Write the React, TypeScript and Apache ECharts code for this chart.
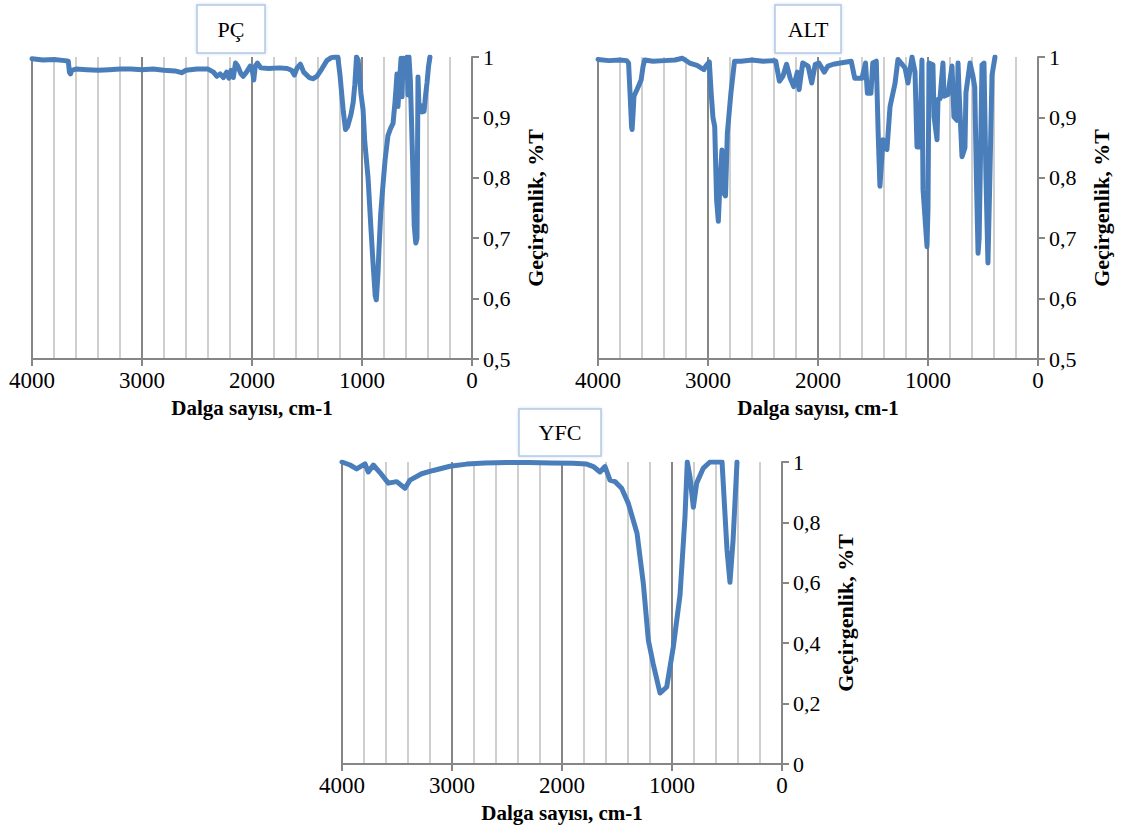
import React, { useEffect, useRef } from "react";
import * as echarts from "echarts";

// ---- Data ----
const pcWavenumber = [4000,3900,3800,3700,3670,3660,3650,3640,3600,3500,3400,3300,3200,3100,3000,2900,2800,2700,2640,2600,2500,2400,2350,2320,2290,2260,2230,2210,2190,2170,2150,2130,2100,2080,2050,2016,1995,1984,1970,1950,1920,1850,1750,1680,1640,1615,1590,1560,1530,1480,1447,1410,1366,1320,1280,1240,1220,1200,1170,1150,1130,1100,1080,1065,1050,1035,1010,990,975,945,920,900,880,870,855,846,830,813,790,764,740,718,700,690,682,673,664,655,645,636,627,600,591,582,573,560,540,525,511,500,491,482,470,455,436,420,409,395,382];
const pcTransmittance = [0.997,0.995,0.996,0.994,0.993,0.975,0.972,0.978,0.980,0.979,0.978,0.979,0.980,0.980,0.979,0.980,0.978,0.977,0.974,0.978,0.980,0.980,0.975,0.968,0.972,0.966,0.975,0.965,0.978,0.966,0.990,0.985,0.972,0.968,0.975,0.985,0.975,0.962,0.985,0.990,0.982,0.981,0.982,0.981,0.978,0.970,0.982,0.988,0.975,0.966,0.964,0.968,0.980,0.994,0.999,1.0,1.0,0.970,0.910,0.880,0.885,0.905,0.925,0.955,1.0,0.995,0.940,0.912,0.860,0.800,0.720,0.660,0.605,0.598,0.640,0.680,0.740,0.780,0.830,0.870,0.882,0.890,0.925,0.950,0.972,0.918,0.945,0.970,0.998,0.934,0.998,0.995,1.0,0.937,1.0,0.960,0.830,0.720,0.692,0.700,0.967,0.917,0.920,0.909,0.910,0.940,0.957,0.985,1.0];

const altWavenumber = [4000,3900,3800,3740,3722,3706,3695,3690,3680,3673,3641,3608,3590,3576,3500,3400,3300,3233,3167,3100,3037,3020,2988,2971,2955,2939,2922,2906,2890,2873,2857,2841,2824,2792,2759,2700,2600,2500,2400,2384,2351,2319,2286,2253,2221,2188,2172,2139,2090,2057,2025,1992,1943,1910,1861,1796,1698,1666,1600,1568,1551,1519,1502,1470,1453,1437,1421,1409,1390,1373,1345,1300,1273,1209,1182,1145,1118,1100,1076,1055,1045,1009,1000,991,955,945,918,909,891,864,855,818,782,764,736,727,718,691,664,655,618,591,575,560,545,535,509,491,473,455,440,418,391];
const altTransmittance = [0.996,0.994,0.995,0.994,0.990,0.930,0.885,0.880,0.910,0.935,0.948,0.962,0.985,0.995,0.993,0.994,0.995,0.998,0.990,0.986,0.979,0.985,0.992,0.940,0.900,0.885,0.764,0.728,0.797,0.846,0.775,0.770,0.874,0.940,0.993,0.993,0.995,0.993,0.994,0.993,0.960,0.968,0.988,0.965,0.951,0.975,0.946,0.990,0.985,0.957,0.988,0.990,0.975,0.985,0.988,0.990,0.993,0.965,0.965,0.990,0.940,0.940,0.990,0.993,0.874,0.786,0.830,0.863,0.850,0.847,0.918,0.956,0.996,0.982,0.957,1.0,0.975,0.851,0.851,0.995,0.780,0.686,0.750,0.990,0.987,0.901,0.863,0.930,0.931,0.990,0.935,0.938,0.985,0.901,0.895,0.990,0.945,0.835,0.850,0.941,0.990,0.968,0.950,0.800,0.675,0.700,0.987,0.990,0.800,0.659,0.780,0.970,1.0];

const yfcWavenumber = [4000,3927,3867,3791,3761,3715,3655,3579,3503,3427,3382,3276,3170,3018,2867,2700,2500,2300,2100,1900,1776,1715,1655,1609,1564,1518,1458,1397,1318,1261,1215,1170,1109,1048,988,927,882,861,836,806,776,715,655,545,500,473,445,409];
const yfcTransmittance = [1.0,0.990,0.977,0.994,0.967,0.990,0.965,0.930,0.935,0.913,0.940,0.961,0.972,0.986,0.993,0.997,0.998,0.998,0.997,0.996,0.993,0.985,0.967,0.985,0.940,0.935,0.913,0.863,0.764,0.599,0.410,0.330,0.235,0.255,0.388,0.560,0.818,1.0,0.950,0.850,0.930,0.980,1.0,1.0,0.709,0.602,0.740,1.0];

const panelTitles = ["PÇ", "ALT", "YFC"];
const xAxisTitle = "Dalga sayısı, cm-1";
const yAxisTitle = "Geçirgenlik, %T";
const yRanges = [
  { min: 0.5, max: 1, interval: 0.1 },
  { min: 0.5, max: 1, interval: 0.1 },
  { min: 0, max: 1, interval: 0.2 },
];

const FONT = "'Liberation Serif', 'Times New Roman', serif";
const LINE_COLOR = "#4a7ebb";
const AXIS_COLOR = "#868686";

const grids = [
  { left: 32, top: 57, width: 440, height: 302 },
  { left: 598, top: 57, width: 440, height: 302 },
  { left: 342, top: 462, width: 440, height: 302 },
];
const titleBoxes = [
  { cx: 231, top: 5, w: 68, h: 48 },
  { cx: 808, top: 5, w: 66, h: 48 },
  { cx: 560, top: 409, w: 82, h: 47 },
];

function fmtY(v: number) {
  if (Number.isInteger(v)) return String(v);
  return v.toFixed(1).replace(".", ",");
}
function fmtX(v: number) {
  return String(Math.round(v));
}

function zip(xs: number[], ys: number[]) {
  return xs.map((x, i) => [x, ys[i]]);
}

export default function App() {
  const ref = useRef<HTMLDivElement>(null);
  useEffect(() => {
    document.body.style.margin = "0";
    const chart = echarts.init(ref.current!, null, { renderer: "svg" });
    const datasets = [
      zip(pcWavenumber, pcTransmittance),
      zip(altWavenumber, altTransmittance),
      zip(yfcWavenumber, yfcTransmittance),
    ];
    const option: any = {
      animation: false,
      backgroundColor: "#ffffff",
      grid: grids.map((g) => ({ ...g, containLabel: false })),
      xAxis: grids.map((_, i) => ({
        type: "value",
        gridIndex: i,
        min: 0,
        max: 4000,
        interval: 1000,
        inverse: true,
        name: xAxisTitle,
        nameLocation: "middle",
        nameGap: 38,
        nameTextStyle: { fontFamily: FONT, fontWeight: "bold", fontSize: 21, color: "#000" },
        axisLine: { show: true, lineStyle: { color: AXIS_COLOR, width: 2 } },
        axisTick: { show: true, length: 7, lineStyle: { color: AXIS_COLOR, width: 2 } },
        axisLabel: { fontFamily: FONT, fontSize: 23, color: "#000", margin: 10, formatter: fmtX },
        splitLine: { show: true, lineStyle: { color: AXIS_COLOR, width: 2 } },
        minorTick: { show: false, splitNumber: 5 },
        minorSplitLine: { show: true, lineStyle: { color: "#cfcfcf", width: 2 } },
      })),
      yAxis: grids.map((_, i) => ({
        type: "value",
        gridIndex: i,
        position: "right",
        min: yRanges[i].min,
        max: yRanges[i].max,
        interval: yRanges[i].interval,
        name: yAxisTitle,
        nameLocation: "middle",
        nameGap: 52,
        nameRotate: 90,
        nameTextStyle: { fontFamily: FONT, fontWeight: "bold", fontSize: 22, color: "#000" },
        axisLine: { show: true, lineStyle: { color: AXIS_COLOR, width: 2 } },
        axisTick: { show: true, length: 7, lineStyle: { color: AXIS_COLOR, width: 2 } },
        axisLabel: { fontFamily: FONT, fontSize: 22, color: "#000", margin: 11, formatter: fmtY },
        splitLine: { show: false },
      })),
      series: datasets.map((d, i) => ({
        type: "line",
        xAxisIndex: i,
        yAxisIndex: i,
        data: d,
        showSymbol: false,
        symbol: "none",
        lineStyle: { color: LINE_COLOR, width: 5, join: "round", cap: "round" },
        clip: true,
      })),
      graphic: titleBoxes.map((b, i) => ({
        type: "group",
        children: [
          {
            type: "rect",
            shape: { x: b.cx - b.w / 2, y: b.top, width: b.w, height: b.h },
            style: {
              fill: "#ffffff",
              stroke: "#b4c9e6",
              lineWidth: 1.5,
              shadowColor: "rgba(120,150,200,0.35)",
              shadowBlur: 3,
            },
          },
          {
            type: "text",
            x: b.cx,
            y: b.top + b.h / 2,
            style: {
              text: panelTitles[i],
              fontFamily: FONT,
              fontSize: 22,
              fill: "#000",
              textAlign: "center",
              textVerticalAlign: "middle",
            },
          },
        ],
      })),
    };
    chart.setOption(option);
    return () => chart.dispose();
  }, []);
  return <div ref={ref} style={{ width: 1123, height: 834 }} />;
}
